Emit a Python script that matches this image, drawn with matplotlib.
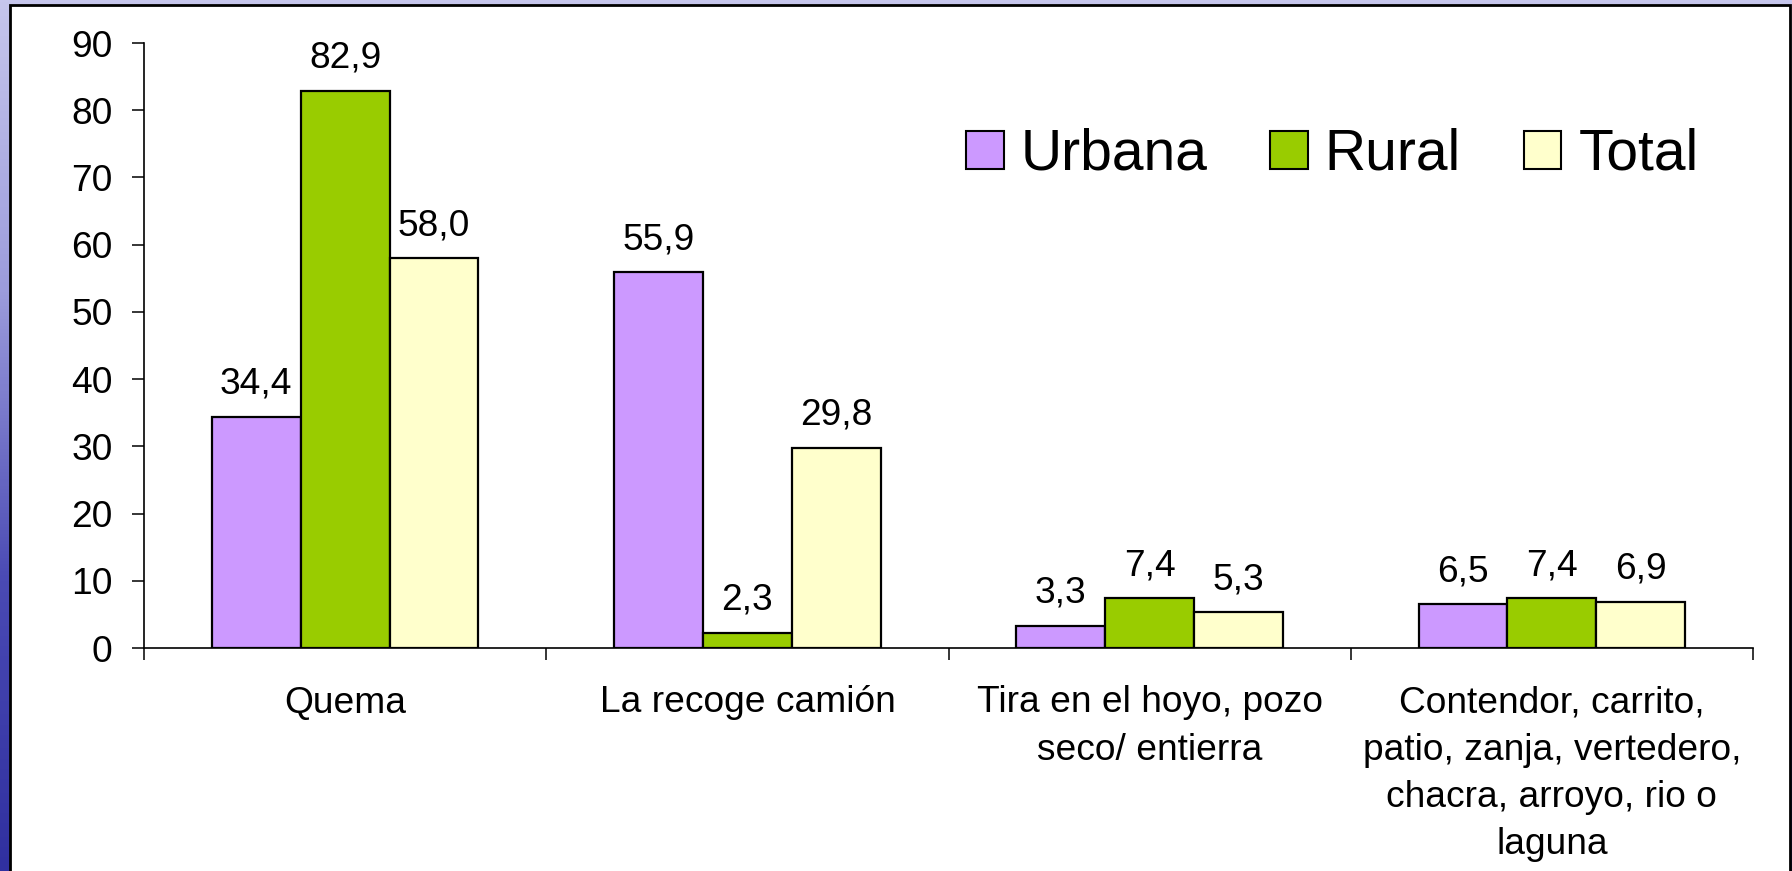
import matplotlib
matplotlib.use('Agg')
import matplotlib.pyplot as plt
import numpy as np
from matplotlib.patches import Rectangle, Patch
from matplotlib.colors import LinearSegmentedColormap

categories = ["Quema",
              "La recoge camión",
              "Tira en el hoyo, pozo\nseco/ entierra",
              "Contendor, carrito,\npatio, zanja, vertedero,\nchacra, arroyo, rio o\nlaguna"]
urbana = [34.4, 55.9, 3.3, 6.5]
rural = [82.9, 2.3, 7.4, 7.4]
total = [58.0, 29.8, 5.3, 6.9]
series_names = ["Urbana", "Rural", "Total"]
colors = ["#CC99FF", "#99CC00", "#FFFFCC"]
yticks = list(range(0, 100, 10))

plt.rcParams['font.family'] = ['Liberation Sans', 'DejaVu Sans']

W, H = 1792, 871
fig = plt.figure(figsize=(W / 100, H / 100), dpi=100)

# slide-like background
bg = fig.add_axes([0, 0, 1, 1], zorder=-10)
cmap = LinearSegmentedColormap.from_list('bg', ['#c6c6ec', '#9c9cdc', '#4a4ab4', '#3030a0'])
grad = np.linspace(0, 1, 256).reshape(-1, 1)
bg.imshow(grad, aspect='auto', cmap=cmap, extent=[0, 1, 0, 1], origin='upper')
bg.add_patch(Rectangle((10 / W, -0.01), (1790 - 10) / W, 866 / H + 0.01,
                       transform=bg.transAxes, facecolor='white',
                       edgecolor='black', lw=2))
bg.set_xlim(0, 1)
bg.set_ylim(0, 1)
bg.axis('off')

ax = fig.add_axes([144 / W, 1 - 648 / H, (1753 - 144) / W, (648 - 43) / H])
ax.patch.set_alpha(0)

x = np.arange(len(categories)) + 0.5
w = 0.221
fs = 26.7
for i, (vals, name, c) in enumerate(zip([urbana, rural, total], series_names, colors)):
    xs = x + (i - 1) * w
    ax.bar(xs, vals, width=w, color=c, edgecolor='black', linewidth=1.6, label=name, zorder=3)
    for xi, v in zip(xs, vals):
        ax.annotate(f"{v:.1f}".replace('.', ','), (xi, v), xytext=(0, 16.5),
                    textcoords='offset points', ha='center', va='baseline',
                    fontsize=fs, color='black')

ax.set_xlim(0, 4)
ax.set_ylim(0, 90)
ax.set_yticks(yticks)
ax.set_yticklabels([str(t) for t in yticks], fontsize=fs)
ax.tick_params(axis='y', length=8.6, width=1.1, pad=14, direction='out')
ax.set_xticks([0, 1, 2, 3, 4])
ax.set_xticklabels([])
ax.tick_params(axis='x', which='major', length=8.6, width=1.1, direction='out')
ax.set_xticks(x, minor=True)
ax.set_xticklabels(categories, minor=True, fontsize=fs, linespacing=1.45)
ax.tick_params(axis='x', which='minor', length=0, pad=27)
for s in ['top', 'right']:
    ax.spines[s].set_visible(False)
for s in ['left', 'bottom']:
    ax.spines[s].set_linewidth(1.2)

handles = [Patch(facecolor=c, edgecolor='black', linewidth=1.5) for c in colors]
fig.legend(handles, series_names, loc='center left',
           bbox_to_anchor=(966 / W, 1 - 155 / H), bbox_transform=fig.transFigure,
           ncol=3, frameon=False, fontsize=41, handlelength=0.66, handleheight=0.66,
           handletextpad=0.3, columnspacing=1.1, borderpad=0, borderaxespad=0)

fig.savefig('out.png', dpi=100)
